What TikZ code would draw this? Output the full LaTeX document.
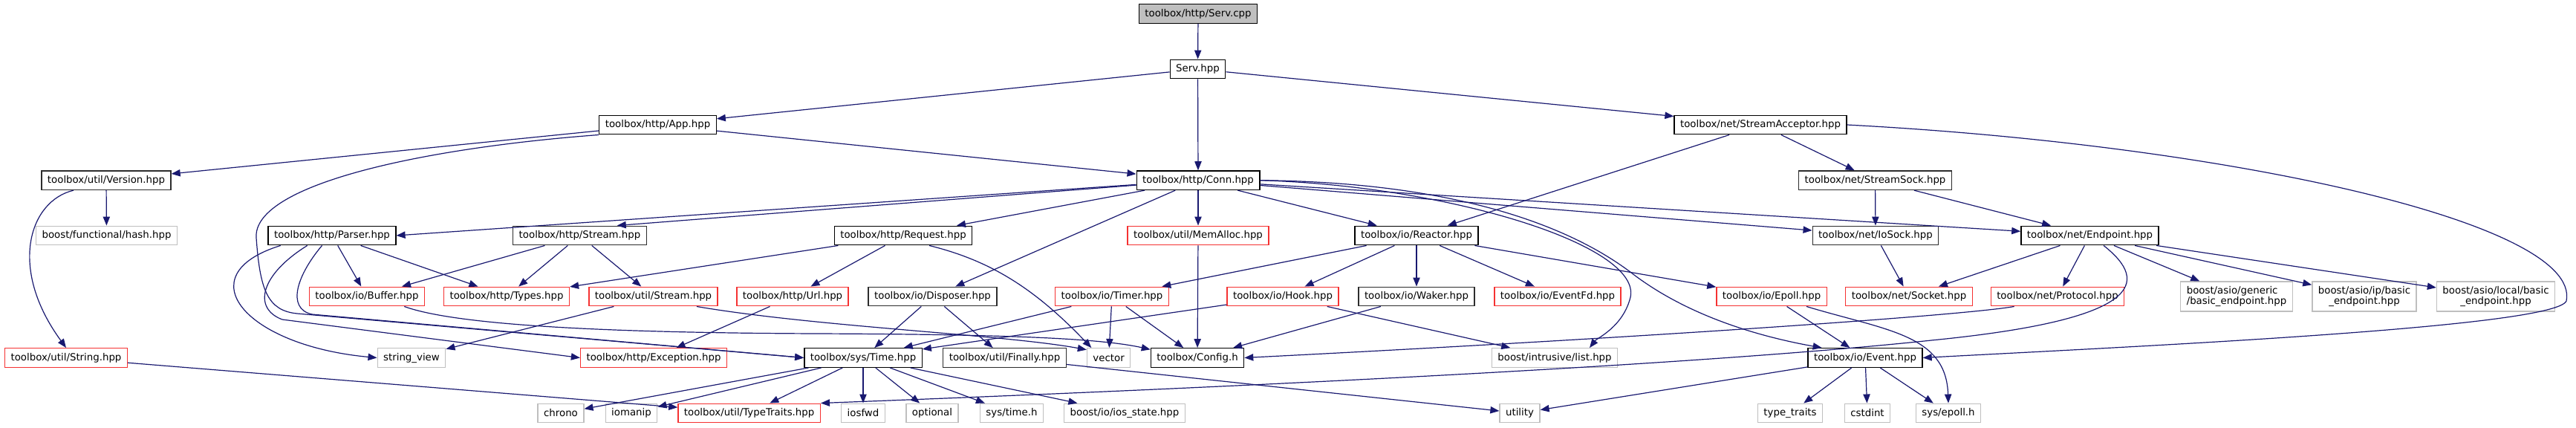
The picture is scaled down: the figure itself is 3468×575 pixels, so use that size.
\documentclass[tikz,border=0pt]{standalone}
\usepackage{fontspec}
\setmainfont{DejaVu Sans}
\usetikzlibrary{arrows.meta}
\definecolor{edgeblue}{RGB}{25,25,112}
\definecolor{truncred}{RGB}{245,50,50}
\definecolor{extgrey}{RGB}{191,191,191}
\definecolor{docgrey}{RGB}{45,45,45}

\begin{document}
\begin{tikzpicture}[x=0.75pt, y=-0.75pt,
    file/.style={draw=black, line width=1pt, fill=white, font=\fontsize{10}{12}\selectfont,
      inner xsep=6pt, inner ysep=0pt, minimum height=19.2pt},
    undoc/.style={file, draw=docgrey},
    trunc/.style={file, draw=truncred},
    ext/.style={file, draw=extgrey},
    twoline/.style={ext, font=\fontsize{10}{11}\selectfont, minimum height=30pt},
    edge/.style={edgeblue, line width=0.9pt, -{Triangle[length=9pt,width=7pt]}}]
  \useasboundingbox (0,0) rectangle (3468,575);

  % rows of the include graph
  \node[file, fill=extgrey] (cpp) at (1613,18.5) {toolbox/http/Serv.cpp};
  \node[file] (servhpp) at (1612.5,93) {Serv.hpp};

  \node[file] (app) at (885.5,168) {toolbox/http/App.hpp};
  \node[file] (acceptor) at (2370,168) {toolbox/net/StreamAcceptor.hpp};

  \node[undoc] (version) at (143,242.7) {toolbox/util/Version.hpp};
  \node[file] (conn) at (1613,242.7) {toolbox/http/Conn.hpp};
  \node[undoc] (streamsock) at (2524.5,242.7) {toolbox/net/StreamSock.hpp};

  \node[ext] (hash) at (143.5,317) {boost/functional/hash.hpp};
  \node[file] (parser) at (447,317) {toolbox/http/Parser.hpp};
  \node[undoc] (stream) at (780.5,317) {toolbox/http/Stream.hpp};
  \node[file] (request) at (1216,317) {toolbox/http/Request.hpp};
  \node[trunc] (memalloc) at (1613,317) {toolbox/util/MemAlloc.hpp};
  \node[file] (reactor) at (1907,317) {toolbox/io/Reactor.hpp};
  \node[undoc] (iosock) at (2525,317) {toolbox/net/IoSock.hpp};
  \node[file] (endpoint) at (2813.5,317) {toolbox/net/Endpoint.hpp};

  \node[trunc] (buffer) at (494,399) {toolbox/io/Buffer.hpp};
  \node[trunc] (types) at (682,399) {toolbox/http/Types.hpp};
  \node[trunc] (ustream) at (879.5,399) {toolbox/util/Stream.hpp};
  \node[trunc] (url) at (1067,399) {toolbox/http/Url.hpp};
  \node[undoc] (disposer) at (1255.5,399) {toolbox/io/Disposer.hpp};
  \node[trunc] (timer) at (1497,399) {toolbox/io/Timer.hpp};
  \node[trunc] (hook) at (1727,399) {toolbox/io/Hook.hpp};
  \node[undoc] (waker) at (1907,399) {toolbox/io/Waker.hpp};
  \node[trunc] (eventfd) at (2097,399) {toolbox/io/EventFd.hpp};
  \node[trunc] (epoll) at (2385,399) {toolbox/io/Epoll.hpp};
  \node[trunc] (socket) at (2570,399) {toolbox/net/Socket.hpp};
  \node[trunc] (protocol) at (2770,399) {toolbox/net/Protocol.hpp};
  \node[twoline, align=left] (generic) at (3011,399) {boost/asio/generic\\/basic\_endpoint.hpp};
  \node[twoline, align=center] (ip) at (3183,399) {boost/asio/ip/basic\\\_endpoint.hpp};
  \node[twoline, align=center] (local) at (3360,399) {boost/asio/local/basic\\\_endpoint.hpp};

  \node[trunc] (string) at (89,481.5) {toolbox/util/String.hpp};
  \node[ext] (stringview) at (554,481.5) {string\_view};
  \node[trunc] (exception) at (880,481.5) {toolbox/http/Exception.hpp};
  \node[file] (time) at (1162,481.5) {toolbox/sys/Time.hpp};
  \node[undoc] (finally) at (1352.5,481.5) {toolbox/util/Finally.hpp};
  \node[ext] (vector) at (1492.6,481.5) {vector};
  \node[file] (config) at (1612,481.5) {toolbox/Config.h};
  \node[ext] (list) at (2093,481.5) {boost/intrusive/list.hpp};
  \node[file] (event) at (2511,481.5) {toolbox/io/Event.hpp};

  \node[ext] (chrono) at (755,556) {chrono};
  \node[ext] (iomanip) at (850,556) {iomanip};
  \node[trunc] (typetraits) at (1008.6,556) {toolbox/util/TypeTraits.hpp};
  \node[ext] (iosfwd) at (1162,556) {iosfwd};
  \node[ext] (optional) at (1255,556) {optional};
  \node[ext] (systime) at (1362,556) {sys/time.h};
  \node[ext] (iosstate) at (1514,556) {boost/io/ios\_state.hpp};
  \node[ext] (utility) at (2046,556) {utility};
  \node[ext] (typetr) at (2410,556) {type\_traits};
  \node[ext] (cstdint) at (2514,556) {cstdint};
  \node[ext] (epollh) at (2623,556) {sys/epoll.h};

  % straight includes
  \draw[edge] (cpp) -- (servhpp);
  \foreach \t in {app,conn,acceptor} \draw[edge] (servhpp) -- (\t);
  \foreach \t in {version,conn} \draw[edge] (app) -- (\t);
  \draw[edge] (version) -- (hash);
  \foreach \t in {reactor,streamsock} \draw[edge] (acceptor) -- (\t);
  \foreach \t in {iosock,endpoint} \draw[edge] (streamsock) -- (\t);
  \draw[edge] (conn) -- (parser.east);
  \draw[edge] (conn) -- (stream.15);
  \foreach \t in {request,disposer,memalloc,reactor,iosock,endpoint} \draw[edge] (conn) -- (\t);
  \foreach \t in {buffer,types} \draw[edge] (parser) -- (\t);
  \foreach \t in {buffer,types,ustream} \draw[edge] (stream) -- (\t);
  \foreach \t in {types,url} \draw[edge] (request) -- (\t);
  \draw[edge] (memalloc) -- (config);
  \foreach \t in {timer,hook,waker,eventfd,epoll} \draw[edge] (reactor) -- (\t);
  \draw[edge] (iosock) -- (socket);
  \foreach \t in {socket,protocol,generic,ip,local} \draw[edge] (endpoint) -- (\t);
  \draw[edge] (ustream) -- (stringview);
  \draw[edge] (url) -- (exception);
  \foreach \t in {time,finally} \draw[edge] (disposer) -- (\t);
  \foreach \t in {time,vector,config} \draw[edge] (timer) -- (\t);
  \foreach \t in {time,list} \draw[edge] (hook) -- (\t);
  \draw[edge] (waker) -- (config);
  \draw[edge] (epoll) -- (event);
  \draw[edge] (string) -- (typetraits);
  \foreach \t in {chrono,iomanip,typetraits,iosfwd,optional,systime,iosstate} \draw[edge] (time) -- (\t);
  \draw[edge] (finally) -- (utility);
  \foreach \t in {utility,typetr,cstdint,epollh} \draw[edge] (event) -- (\t);

  % curved includes
  \draw[edge] (app.south west) .. controls (560,200) and (340,250) .. (345,320)
    .. controls (350,390) and (360,418) .. (400,422) -- (time.west);
  \draw[edge] (version.-163) .. controls (40,270) and (10,360) .. (string.north);
  \draw[edge] (parser.-169) .. controls (250,370) and (330,465) .. (stringview.west);
  \draw[edge] (parser.-158) .. controls (350,370) and (340,415) .. (380,430) -- (exception.west);
  \draw[edge] (parser.-135) .. controls (400,370) and (385,415) .. (420,423) -- (time.west);
  \draw[edge] (request.-21) .. controls (1330,350) and (1390,385) .. (vector.150);
  \draw[edge] (buffer.-15) .. controls (620,440) and (850,448) .. (1100,449)
    .. controls (1350,450) and (1480,455) .. (config.170);
  \draw[edge] (ustream.-13) .. controls (1100,440) and (1350,450) .. (vector.160);
  \draw[edge] (conn.east) .. controls (1950,250) and (2210,330) .. (2195,400)
    .. controls (2185,440) and (2150,455) .. (list.16);
  \draw[edge] (conn.east) .. controls (1950,245) and (2110,300) .. (2200,370)
    .. controls (2280,430) and (2380,455) .. (event.167);
  \draw[edge] (acceptor.east) .. controls (3000,195) and (3475,300) .. (3455,405)
    .. controls (3440,440) and (2900,465) .. (event.east);
  \draw[edge] (endpoint.-36) .. controls (2895,380) and (2885,430) .. (2600,458)
    .. controls (2300,490) and (1700,520) .. (typetraits.north east);
  \draw[edge] (protocol.-167) .. controls (2640,425) and (2200,455) .. (config.east);
  \draw[edge] (epoll.-16) .. controls (2540,445) and (2620,450) .. (epollh.north);
\end{tikzpicture}
\end{document}
